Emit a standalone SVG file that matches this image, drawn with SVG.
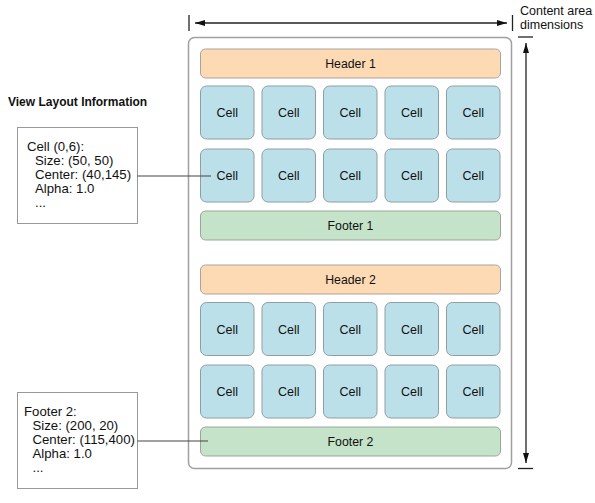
<svg xmlns="http://www.w3.org/2000/svg" width="595" height="503" viewBox="0 0 595 503">
<style>
text{font-family:"Liberation Sans",Arial,sans-serif;fill:#111}
.cell rect{fill:#BCE0EA;stroke:#8e9ea3;stroke-width:1}
.hdr rect{fill:#FDDAB4;stroke:#a9a49e;stroke-width:1}
.ftr rect{fill:#C4E3C8;stroke:#9aa69b;stroke-width:1}
.lbl{font-size:12.5px;text-anchor:middle}
.bar{font-size:12.3px;text-anchor:middle}
.info rect{fill:#fff;stroke:#999;stroke-width:1}
.info text{font-size:13.2px}
.dim{stroke:#222;stroke-width:1.3;fill:none}
.conn{stroke:#444;stroke-width:1.2}
</style>
<defs>
<marker id="ah" viewBox="0 0 10 6" refX="10" refY="3" markerWidth="10" markerHeight="6" markerUnits="userSpaceOnUse" orient="auto-start-reverse">
<path d="M0,0 L10,3 L0,6 z" fill="#111"/>
</marker>
</defs>
<rect width="595" height="503" fill="#fff"/>

<g id="container">
<rect x="188.5" y="37.5" width="323" height="431" rx="6" fill="#fff" stroke="#a0a0a0" stroke-width="1.5"/>
</g>

<g id="dimensions">
<line class="dim" x1="189" y1="15" x2="189" y2="31"/>
<line class="dim" x1="512.5" y1="15" x2="512.5" y2="31"/>
<line class="dim" x1="195" y1="23" x2="507" y2="23" marker-start="url(#ah)" marker-end="url(#ah)"/>
<line class="dim" x1="518" y1="37" x2="533" y2="37"/>
<line class="dim" x1="518" y1="468.5" x2="533" y2="468.5"/>
<line class="dim" x1="526" y1="43" x2="526" y2="463" marker-start="url(#ah)" marker-end="url(#ah)"/>
<text x="520" y="15" font-size="12.5">Content area</text>
<text x="520" y="29" font-size="12.5">dimensions</text>
</g>

<g id="header1" class="hdr"><rect x="200.5" y="49" width="300" height="29" rx="5"/><text class="bar" x="350.5" y="67.7">Header 1</text></g>
<g id="footer1" class="ftr"><rect x="200.5" y="211" width="300" height="29" rx="5"/><text class="bar" x="350.5" y="229.7">Footer 1</text></g>
<g id="header2" class="hdr"><rect x="200.5" y="265" width="300" height="29" rx="5"/><text class="bar" x="350.5" y="283.7">Header 2</text></g>
<g id="footer2" class="ftr"><rect x="200.5" y="427" width="300" height="29" rx="5"/><text class="bar" x="350.5" y="445.7">Footer 2</text></g>

<g id="cells1">
<g id="cell-r1c1" class="cell"><rect x="200.5" y="86" width="53.5" height="53" rx="6"/><text class="lbl" x="227.25" y="117">Cell</text></g>
<g id="cell-r1c2" class="cell"><rect x="262" y="86" width="53.5" height="53" rx="6"/><text class="lbl" x="288.75" y="117">Cell</text></g>
<g id="cell-r1c3" class="cell"><rect x="323.5" y="86" width="53.5" height="53" rx="6"/><text class="lbl" x="350.25" y="117">Cell</text></g>
<g id="cell-r1c4" class="cell"><rect x="385" y="86" width="53.5" height="53" rx="6"/><text class="lbl" x="411.75" y="117">Cell</text></g>
<g id="cell-r1c5" class="cell"><rect x="446.5" y="86" width="53.5" height="53" rx="6"/><text class="lbl" x="473.25" y="117">Cell</text></g>
<g id="cell-r2c1" class="cell"><rect x="200.5" y="149" width="53.5" height="53" rx="6"/><text class="lbl" x="227.25" y="180">Cell</text></g>
<g id="cell-r2c2" class="cell"><rect x="262" y="149" width="53.5" height="53" rx="6"/><text class="lbl" x="288.75" y="180">Cell</text></g>
<g id="cell-r2c3" class="cell"><rect x="323.5" y="149" width="53.5" height="53" rx="6"/><text class="lbl" x="350.25" y="180">Cell</text></g>
<g id="cell-r2c4" class="cell"><rect x="385" y="149" width="53.5" height="53" rx="6"/><text class="lbl" x="411.75" y="180">Cell</text></g>
<g id="cell-r2c5" class="cell"><rect x="446.5" y="149" width="53.5" height="53" rx="6"/><text class="lbl" x="473.25" y="180">Cell</text></g>
</g>
<g id="cells2">
<g id="cell-r3c1" class="cell"><rect x="200.5" y="302.5" width="53.5" height="53" rx="6"/><text class="lbl" x="227.25" y="333.5">Cell</text></g>
<g id="cell-r3c2" class="cell"><rect x="262" y="302.5" width="53.5" height="53" rx="6"/><text class="lbl" x="288.75" y="333.5">Cell</text></g>
<g id="cell-r3c3" class="cell"><rect x="323.5" y="302.5" width="53.5" height="53" rx="6"/><text class="lbl" x="350.25" y="333.5">Cell</text></g>
<g id="cell-r3c4" class="cell"><rect x="385" y="302.5" width="53.5" height="53" rx="6"/><text class="lbl" x="411.75" y="333.5">Cell</text></g>
<g id="cell-r3c5" class="cell"><rect x="446.5" y="302.5" width="53.5" height="53" rx="6"/><text class="lbl" x="473.25" y="333.5">Cell</text></g>
<g id="cell-r4c1" class="cell"><rect x="200.5" y="365" width="53.5" height="53" rx="6"/><text class="lbl" x="227.25" y="396">Cell</text></g>
<g id="cell-r4c2" class="cell"><rect x="262" y="365" width="53.5" height="53" rx="6"/><text class="lbl" x="288.75" y="396">Cell</text></g>
<g id="cell-r4c3" class="cell"><rect x="323.5" y="365" width="53.5" height="53" rx="6"/><text class="lbl" x="350.25" y="396">Cell</text></g>
<g id="cell-r4c4" class="cell"><rect x="385" y="365" width="53.5" height="53" rx="6"/><text class="lbl" x="411.75" y="396">Cell</text></g>
<g id="cell-r4c5" class="cell"><rect x="446.5" y="365" width="53.5" height="53" rx="6"/><text class="lbl" x="473.25" y="396">Cell</text></g>
</g>

<text id="title" x="8" y="106" font-size="12" font-weight="bold">View Layout Information</text>

<g id="info-cell" class="info">
<rect x="17.5" y="127.5" width="120" height="96"/>
<text x="27" y="151">Cell (0,6):</text>
<text x="35" y="165">Size: (50, 50)</text>
<text x="35" y="179">Center: (40,145)</text>
<text x="35" y="193">Alpha: 1.0</text>
<text x="35" y="207">...</text>
</g>

<g id="info-footer" class="info">
<rect x="17.5" y="392.5" width="120" height="96"/>
<text x="24" y="416">Footer 2:</text>
<text x="32.5" y="430">Size: (200, 20)</text>
<text x="32.5" y="444">Center: (115,400)</text>
<text x="32.5" y="458">Alpha: 1.0</text>
<text x="32.5" y="472">...</text>
</g>

<g id="connectors">
<line class="conn" x1="137.5" y1="176" x2="211" y2="176"/>
<line class="conn" x1="137.5" y1="441" x2="208" y2="441"/>
</g>
</svg>
